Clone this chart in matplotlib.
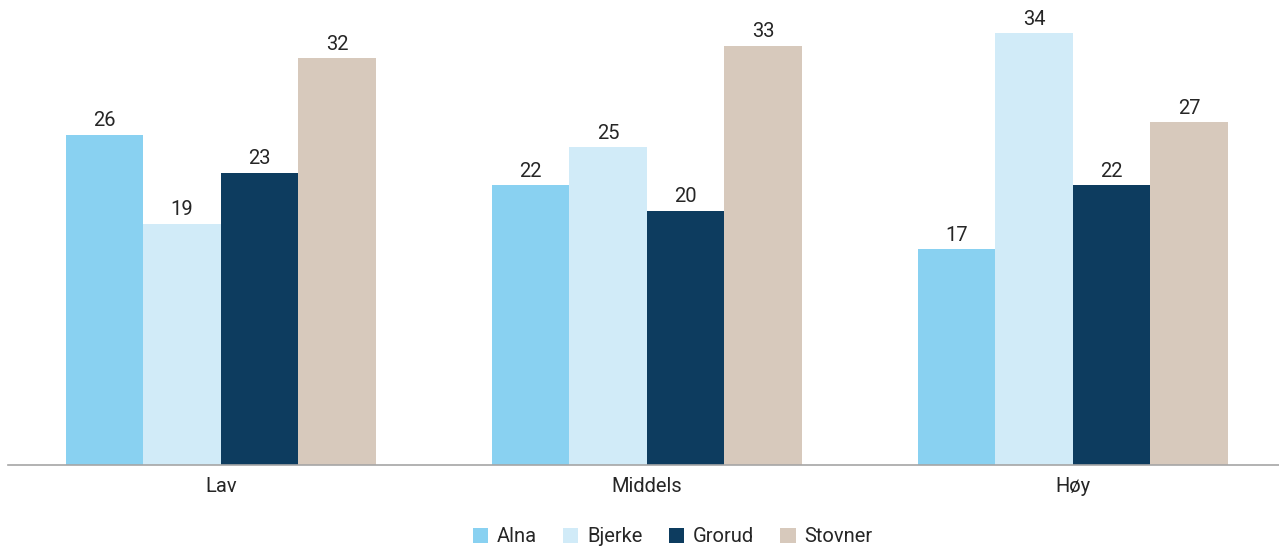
import numpy as np
import matplotlib
matplotlib.use("Agg")
import matplotlib.pyplot as plt

# Data
categories = ["Lav", "Middels", "Høy"]
series_names = ["Alna", "Bjerke", "Grorud", "Stovner"]
alna = [26, 22, 17]
bjerke = [19, 25, 34]
grorud = [23, 20, 22]
stovner = [32, 33, 27]
colors = ["#89D1F1", "#D1EBF8", "#0D3C5F", "#D7C9BC"]

plt.rcParams['font.family'] = ['Roboto', 'DejaVu Sans']

fig = plt.figure(figsize=(12.79, 5.47), dpi=100)
ax = fig.add_axes([0.006, 0.150, 0.994, 0.850])

x = np.arange(len(categories))
width = 0.182
all_series = [alna, bjerke, grorud, stovner]
for i, (name, vals) in enumerate(zip(series_names, all_series)):
    pos = x + (i - 1.5) * width
    bars = ax.bar(pos, vals, width, color=colors[i], label=name, zorder=2)
    for b, v in zip(bars, vals):
        ax.text(b.get_x() + b.get_width() / 2, v + 0.35, str(v),
                ha='center', va='bottom', fontsize=14.5, color='#262626')

ax.set_xlim(-0.5, 2.484)
ax.set_ylim(0, 36.6)
ax.set_xticks(x)
ax.set_xticklabels(categories, fontsize=14.5, color='#262626')
ax.tick_params(axis='x', length=0, pad=9)
ax.set_yticks([])
for s in ['top', 'right', 'left']:
    ax.spines[s].set_visible(False)
ax.spines['bottom'].set_color('#A6A6A6')
ax.spines['bottom'].set_linewidth(1.2)

leg = fig.legend(loc='lower center', bbox_to_anchor=(0.526, -0.032), ncol=4,
                 frameon=False, handlelength=0.75, handleheight=0.75,
                 columnspacing=1.3, handletextpad=0.45,
                 prop={'size': 14.5})
for t in leg.get_texts():
    t.set_color('#262626')

fig.savefig("out.png", dpi=100)
